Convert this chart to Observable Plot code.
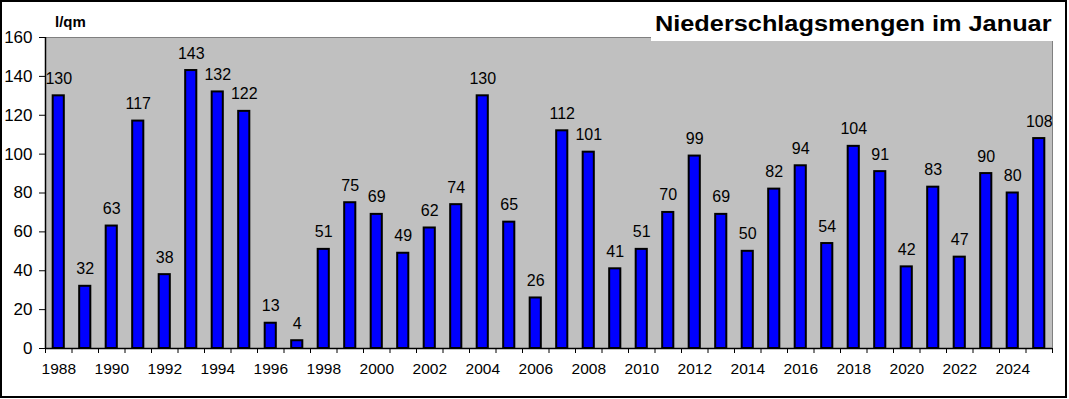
<!DOCTYPE html>
<html>
<head>
<meta charset="utf-8">
<script src="https://cdn.jsdelivr.net/npm/d3@7"></script>
<script src="https://cdn.jsdelivr.net/npm/@observablehq/plot@0.6"></script>
<style>
  html, body { margin: 0; padding: 0; background: #fff; }
  #wrap { position: relative; width: 1069px; height: 399px; overflow: hidden; font-family: "Liberation Sans", Arial, sans-serif; }
  #chart { position: absolute; left: 0; top: 0; }
  #frame { position: absolute; left: 0; top: 0; width: 1067px; height: 398px; border: 2px solid #000; box-sizing: border-box; pointer-events: none; }
  #title { position: absolute; left: 651px; top: 8px; width: 409px; height: 33px; background: #fff; color: #000; }
  #title span { position: absolute; left: 4px; top: 5px; font-weight: bold; font-size: 22px; line-height: 1; white-space: nowrap; transform: scaleX(1.15); transform-origin: left center; }
  #unit { position: absolute; left: 55px; top: 14px; font-weight: bold; font-size: 15px; line-height: 1; color: #000; }
</style>
</head>
<body>
<div id="wrap">
  <div id="chart"></div>
  <div id="title"><span>Niederschlagsmengen im Januar</span></div>
  <div id="unit">l/qm</div>
  <div id="frame"></div>
</div>
<script>
const years = d3.range(1988, 2026);
const values = [130, 32, 63, 117, 38, 143, 132, 122, 13, 4, 51, 75, 69, 49, 62, 74, 130, 65, 26, 112, 101, 41, 51, 70, 99, 69, 50, 82, 94, 54, 104, 91, 42, 83, 47, 90, 80, 108];
const yTicks = [0, 20, 40, 60, 80, 100, 120, 140, 160];
const xLabelYears = years.filter(y => y % 2 === 0);
const xBoundaries = d3.range(1987.5, 2026, 1);

const data = years.map((year, i) => ({year, value: values[i]}));
const half = 0.21;

const chart = Plot.plot({
  width: 1069,
  height: 399,
  marginLeft: 45,
  marginRight: 17,
  marginTop: 37,
  marginBottom: 51,
  style: {fontFamily: "'Liberation Sans', Arial, sans-serif", fontSize: "15px", background: "transparent", color: "#000"},
  x: {domain: [1987.5, 2025.5]},
  y: {domain: [0, 160]},
  marks: [
    Plot.frame({fill: "#c0c0c0", stroke: "#808080", strokeWidth: 1}),
    Plot.rectY(data, {x1: d => d.year - half, x2: d => d.year + half, y: "value", fill: "#0000ff", stroke: "#000", strokeWidth: 2}),
    Plot.text(data, {x: "year", y: "value", text: d => String(d.value), dy: -12, lineAnchor: "bottom", fill: "#000", fontSize: 16}),
    Plot.ruleY([0], {stroke: "#000", strokeWidth: 1.5}),
    Plot.ruleX([1987.5], {stroke: "#000", strokeWidth: 1.5}),
    Plot.axisY({ticks: yTicks, tickSize: 6, tickPadding: 7, tickFormat: d => String(d), fontSize: 17, label: null}),
    Plot.axisX({ticks: xBoundaries, tickSize: 5, tickFormat: () => "", label: null}),
    Plot.axisX({ticks: xLabelYears, tickSize: 0, tickPadding: 14, tickFormat: d => String(d), fontSize: 15.5, label: null})
  ]
});
document.getElementById("chart").appendChild(chart);
</script>
</body>
</html>
